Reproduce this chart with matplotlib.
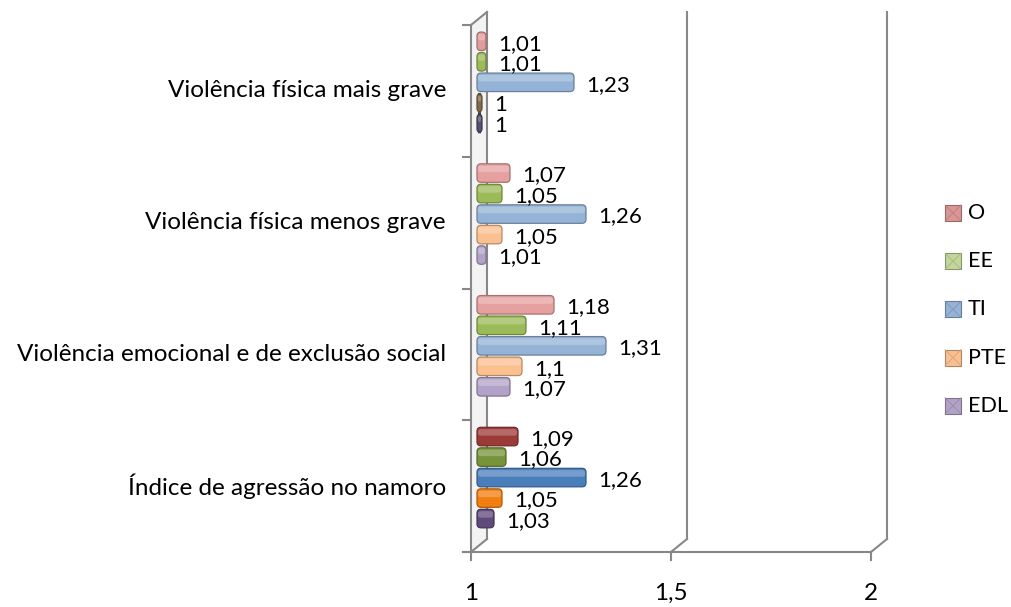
import numpy as np
import matplotlib
matplotlib.use("Agg")
import matplotlib.pyplot as plt
from matplotlib.patches import FancyBboxPatch, Rectangle
from matplotlib.colors import to_rgb

plt.rcParams['font.family'] = ['Lato', 'DejaVu Sans']

# data
categories = ['Índice de agressão no namoro',
              'Violência emocional e de exclusão social',
              'Violência física menos grave',
              'Violência física mais grave']
series = ['EDL', 'PTE', 'TI', 'EE', 'O']   # bottom -> top inside each group
EDL = [1.03, 1.07, 1.01, 1.00]
PTE = [1.05, 1.10, 1.05, 1.00]
TI = [1.26, 1.31, 1.26, 1.23]
EE = [1.06, 1.11, 1.05, 1.01]
O = [1.09, 1.18, 1.07, 1.01]
values = [EDL, PTE, TI, EE, O]
x_ticks = [1, 1.5, 2]
x_ticklabels = ['1', '1,5', '2']

# colours: per series, per category (first group is the vivid one)
bar_colors = {
    'EDL': ['#604A7B', '#B3A2C7', '#B3A2C7', '#55506E'],
    'PTE': ['#F07E10', '#FAC090', '#FAC090', '#86694A'],
    'TI':  ['#4A7EBB', '#95B3D7', '#95B3D7', '#95B3D7'],
    'EE':  ['#77933C', '#9BBB59', '#9BBB59', '#9BBB59'],
    'O':   ['#9B3A37', '#E6A0A0', '#E6A0A0', '#E09C9B'],
}
legend_colors = {'O': '#D99694', 'EE': '#C3D69B', 'TI': '#95B3D7',
                 'PTE': '#FAC090', 'EDL': '#B3A2C7'}
grid_col = '#878787'

W, H = 1012, 607
px_x = 400.0       # pixels per x unit
px_y = 131.75      # pixels per category
x0_pix, y0_pix = 471, 552

fig = plt.figure(figsize=(W / 100, H / 100), dpi=100)
ax = fig.add_axes([0, 0, 1, 1])
ax.set_xlim(1 - x0_pix / px_x, 1 + (W - x0_pix) / px_x)
ax.set_ylim(-(H - y0_pix) / px_y, y0_pix / px_y)
ax.axis('off')

dx = 16 / px_x
dy = 13 / px_y
ncat = len(categories)

# walls / gridlines
ax.fill([1, 1 + dx, 1 + dx, 1], [0, dy, ncat + dy, ncat], color='#F3F3F3', zorder=0)
ax.plot([1, 1], [0, ncat], color=grid_col, lw=1.5, zorder=1)
ax.plot([1 + dx, 1 + dx], [dy, ncat + dy], color=grid_col, lw=1.5, zorder=1)
ax.plot([1, 1 + dx], [ncat, ncat + dy], color=grid_col, lw=1.5, zorder=1)
ax.plot([1 - 8 / px_x, 2], [0, 0], color=grid_col, lw=1.5, zorder=1)
for v in x_ticks:
    ax.plot([v, v + dx], [0, dy], color=grid_col, lw=1.5, zorder=1)
    ax.plot([v, v], [0, -8 / px_y], color=grid_col, lw=1.5, zorder=1)
    if v > 1:
        ax.plot([v + dx, v + dx], [dy, ncat + dy], color=grid_col, lw=1.5, zorder=1)
for i in range(ncat + 1):
    ax.plot([1 - 8 / px_x, 1], [i, i], color=grid_col, lw=1.5, zorder=1)

for v, lab in zip(x_ticks, x_ticklabels):
    ax.text(v, -41 / px_y, lab, ha='center', va='center', fontsize=17.5)

# category labels
for i, c in enumerate(categories):
    ax.text(1 - 25 / px_x, i + 0.5, c, ha='right', va='center', fontsize=17.5)

# bars
step = 20.5 / px_y
bh = 18.5 / px_y
start = 1 + 6 / px_x
rr = 4 / px_x
asp = px_x / px_y
for k, name in enumerate(series):
    for i in range(ncat):
        v = values[k][i]
        yc = i + 0.565 + (k - 2) * step
        end = v + 11 / px_x
        col = bar_colors[name][i]
        rgb = np.array(to_rgb(col))
        p = FancyBboxPatch((start, yc - bh / 2), end - start, bh,
                           boxstyle=f"round,pad=0,rounding_size={rr}",
                           mutation_aspect=asp, fc=col, ec=rgb * 0.72,
                           lw=0.9, zorder=3)
        ax.add_patch(p)
        # highlight band on the top part
        hl = FancyBboxPatch((start + 1 / px_x, yc + bh * 0.05), end - start - 2 / px_x,
                            bh * 0.35,
                            boxstyle=f"round,pad=0,rounding_size={rr * 0.6}",
                            mutation_aspect=asp, fc=np.clip(rgb + (1 - rgb) * 0.35, 0, 1),
                            ec='none', alpha=0.7, zorder=4)
        ax.add_patch(hl)
        txt = f"{v:g}".replace('.', ',')
        ax.text(v + 23 / px_x, yc - 2.5 / px_y, txt, ha='left', va='center',
                fontsize=16, zorder=5)

# legend
leg_order = ['O', 'EE', 'TI', 'PTE', 'EDL']
for j, name in enumerate(leg_order):
    yc = (y0_pix - (213 + j * 48.2)) / px_y
    xl = 1 + (945 - x0_pix) / px_x
    ws = 16 / px_x
    hs = 16 / px_y
    col = legend_colors[name]
    rgb = np.array(to_rgb(col))
    ax.add_patch(Rectangle((xl, yc - hs / 2), ws, hs, fc=col, ec=rgb * 0.7, lw=0.8, zorder=3))
    ax.plot([xl, xl + ws], [yc + hs / 2, yc - hs / 2], color=rgb * 0.85, lw=0.6, zorder=4)
    ax.plot([xl, xl + ws], [yc - hs / 2, yc + hs / 2], color=rgb * 0.85, lw=0.6, zorder=4)
    ax.text(1 + (968 - x0_pix) / px_x, yc, name, ha='left', va='center', fontsize=15.5)

fig.savefig('out.png', dpi=100)
